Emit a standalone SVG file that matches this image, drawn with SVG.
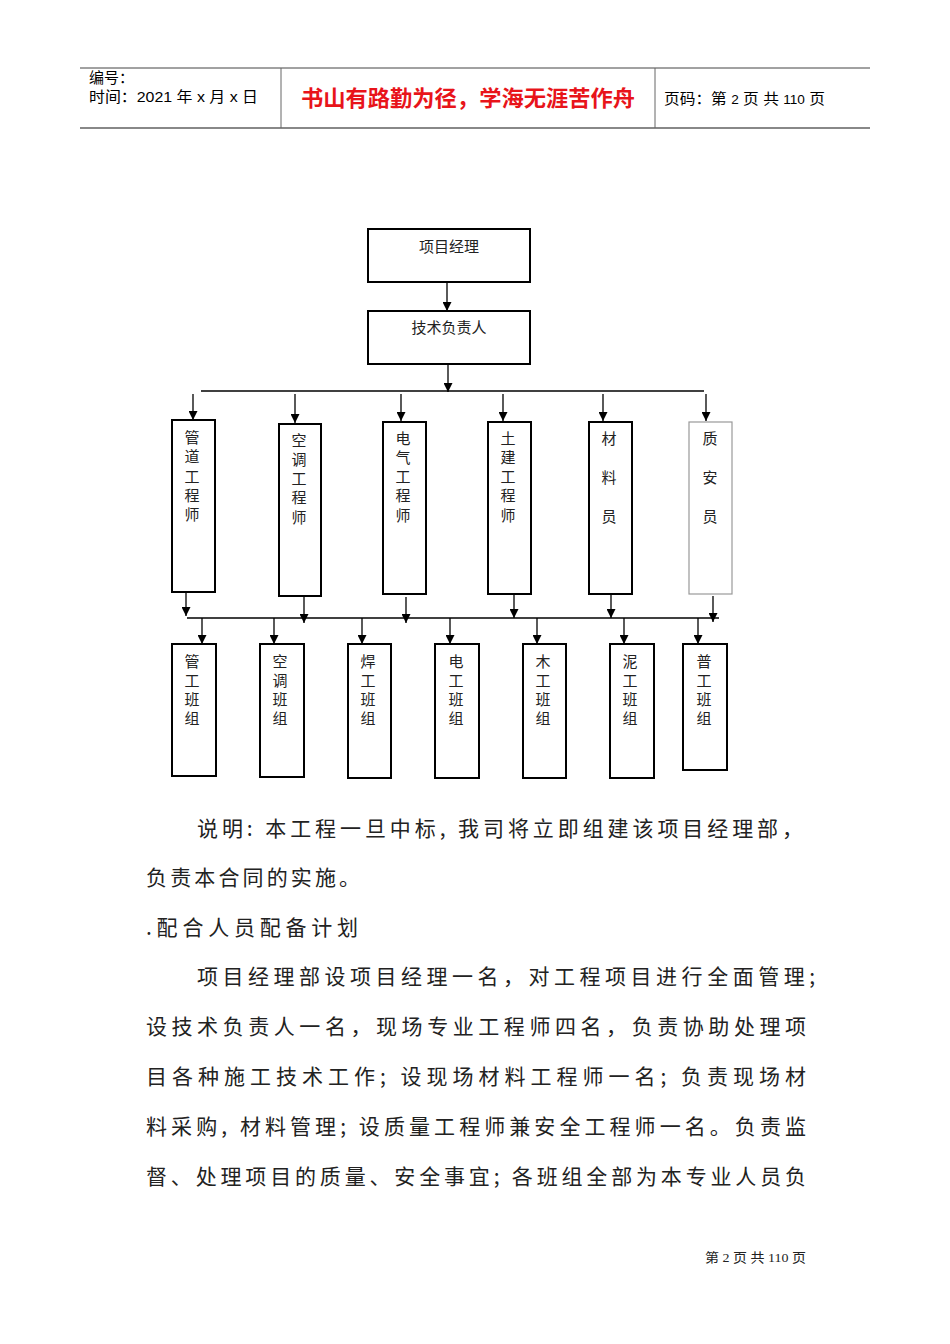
<svg xmlns="http://www.w3.org/2000/svg" width="950" height="1344" viewBox="0 0 950 1344">
<style>
.hdr{font-family:"Liberation Sans","Noto Sans CJK SC",sans-serif;font-size:15px;fill:#000}
.lbl{font-family:"Noto Sans CJK SC",sans-serif;font-size:15px;fill:#222;text-anchor:middle}
.box{fill:#fff;stroke:#000;stroke-width:2}
.boxg{fill:#fff;stroke:#999;stroke-width:1.2}
.con{stroke:#000;stroke-width:1.3;fill:none}
.par{font-family:"Noto Sans CJK SC",sans-serif;font-size:21px;fill:#222}
</style>
<defs>
<marker id="ah" viewBox="0 0 10 10" refX="10" refY="5" markerWidth="9" markerHeight="9" markerUnits="userSpaceOnUse" orient="auto">
<path d="M0,0 L10,5 L0,10 Z" fill="#000"/>
</marker>
</defs>
<rect width="950" height="1344" fill="#fff"/>

<g id="header">
<line x1="80" y1="68" x2="870" y2="68" stroke="#444" stroke-width="1"/>
<line x1="80" y1="128" x2="870" y2="128" stroke="#888" stroke-width="2"/>
<line x1="281" y1="68" x2="281" y2="128" stroke="#666" stroke-width="1"/>
<line x1="655" y1="68" x2="655" y2="128" stroke="#666" stroke-width="1"/>
<text class="hdr" x="89" y="83">编号：</text>
<text class="hdr" x="89" y="102" textLength="169" lengthAdjust="spacingAndGlyphs">时间：2021 年 x 月 x 日</text>
<text x="468" y="106" text-anchor="middle" font-family="Noto Sans CJK SC, sans-serif" font-size="22" font-weight="bold" fill="#e8141a" textLength="334" lengthAdjust="spacingAndGlyphs">书山有路勤为径，学海无涯苦作舟</text>
<text class="hdr" x="664" y="104" textLength="161" lengthAdjust="spacingAndGlyphs">页码：第 <tspan font-size="13">2</tspan> 页 共 <tspan font-size="13">110</tspan> 页</text>
</g>

<g id="connectors">
<path class="con" d="M447,282 V311" marker-end="url(#ah)"/>
<path class="con" d="M448,364 V392" marker-end="url(#ah)"/>
<path class="con" d="M201,391 H704"/>
<path class="con" d="M193,394 V420" marker-end="url(#ah)"/>
<path class="con" d="M295,394 V423" marker-end="url(#ah)"/>
<path class="con" d="M401,394 V421" marker-end="url(#ah)"/>
<path class="con" d="M503,394 V421" marker-end="url(#ah)"/>
<path class="con" d="M603,394 V421" marker-end="url(#ah)"/>
<path class="con" d="M706,394 V421" marker-end="url(#ah)"/>
<path class="con" d="M187,618 H719"/>
<path class="con" d="M186,592 V616" marker-end="url(#ah)"/>
<path class="con" d="M304,597 V623" marker-end="url(#ah)"/>
<path class="con" d="M406,597 V623" marker-end="url(#ah)"/>
<path class="con" d="M514,594 V618" marker-end="url(#ah)"/>
<path class="con" d="M611,594 V618" marker-end="url(#ah)"/>
<path class="con" d="M713,596 V622" marker-end="url(#ah)"/>
<path class="con" d="M202,618 V644" marker-end="url(#ah)"/>
<path class="con" d="M274,618 V644" marker-end="url(#ah)"/>
<path class="con" d="M362,618 V644" marker-end="url(#ah)"/>
<path class="con" d="M450,618 V644" marker-end="url(#ah)"/>
<path class="con" d="M537,618 V644" marker-end="url(#ah)"/>
<path class="con" d="M624,618 V644" marker-end="url(#ah)"/>
<path class="con" d="M698,618 V644" marker-end="url(#ah)"/>
</g>

<g id="pm">
<rect class="box" x="368" y="229" width="162" height="53"/>
<text class="lbl" x="449" y="252">项目经理</text>
</g>
<g id="tech">
<rect class="box" x="368" y="311" width="162" height="53"/>
<text class="lbl" x="449" y="333">技术负责人</text>
</g>

<g id="eng1">
<rect class="box" x="172" y="420" width="43" height="172"/>
<text class="lbl" x="192" y="443">管</text><text class="lbl" x="192" y="462">道</text><text class="lbl" x="192" y="482">工</text><text class="lbl" x="192" y="501">程</text><text class="lbl" x="192" y="520">师</text>
</g>
<g id="eng2">
<rect class="box" x="279" y="424" width="42" height="172"/>
<text class="lbl" x="299" y="446">空</text><text class="lbl" x="299" y="465">调</text><text class="lbl" x="299" y="484">工</text><text class="lbl" x="299" y="503">程</text><text class="lbl" x="299" y="523">师</text>
</g>
<g id="eng3">
<rect class="box" x="383" y="422" width="43" height="172"/>
<text class="lbl" x="403" y="444">电</text><text class="lbl" x="403" y="463">气</text><text class="lbl" x="403" y="482">工</text><text class="lbl" x="403" y="501">程</text><text class="lbl" x="403" y="521">师</text>
</g>
<g id="eng4">
<rect class="box" x="488" y="422" width="43" height="172"/>
<text class="lbl" x="508" y="444">土</text><text class="lbl" x="508" y="463">建</text><text class="lbl" x="508" y="482">工</text><text class="lbl" x="508" y="501">程</text><text class="lbl" x="508" y="521">师</text>
</g>
<g id="mat">
<rect class="box" x="589" y="422" width="43" height="172"/>
<text class="lbl" x="609" y="444">材</text><text class="lbl" x="609" y="483">料</text><text class="lbl" x="609" y="522">员</text>
</g>
<g id="qs">
<rect class="boxg" x="689" y="422" width="43" height="172"/>
<text class="lbl" x="710" y="444">质</text><text class="lbl" x="710" y="483">安</text><text class="lbl" x="710" y="522">员</text>
</g>

<g id="team1">
<rect class="box" x="172" y="644" width="44" height="132"/>
<text class="lbl" x="192" y="667">管</text><text class="lbl" x="192" y="686">工</text><text class="lbl" x="192" y="705">班</text><text class="lbl" x="192" y="724">组</text>
</g>
<g id="team2">
<rect class="box" x="260" y="644" width="44" height="133"/>
<text class="lbl" x="280" y="667">空</text><text class="lbl" x="280" y="686">调</text><text class="lbl" x="280" y="705">班</text><text class="lbl" x="280" y="724">组</text>
</g>
<g id="team3">
<rect class="box" x="348" y="644" width="43" height="134"/>
<text class="lbl" x="368" y="667">焊</text><text class="lbl" x="368" y="686">工</text><text class="lbl" x="368" y="705">班</text><text class="lbl" x="368" y="724">组</text>
</g>
<g id="team4">
<rect class="box" x="435" y="644" width="44" height="134"/>
<text class="lbl" x="456" y="667">电</text><text class="lbl" x="456" y="686">工</text><text class="lbl" x="456" y="705">班</text><text class="lbl" x="456" y="724">组</text>
</g>
<g id="team5">
<rect class="box" x="523" y="644" width="43" height="134"/>
<text class="lbl" x="543" y="667">木</text><text class="lbl" x="543" y="686">工</text><text class="lbl" x="543" y="705">班</text><text class="lbl" x="543" y="724">组</text>
</g>
<g id="team6">
<rect class="box" x="610" y="644" width="44" height="134"/>
<text class="lbl" x="630" y="667">泥</text><text class="lbl" x="630" y="686">工</text><text class="lbl" x="630" y="705">班</text><text class="lbl" x="630" y="724">组</text>
</g>
<g id="team7">
<rect class="box" x="683" y="644" width="44" height="126"/>
<text class="lbl" x="704" y="667">普</text><text class="lbl" x="704" y="686">工</text><text class="lbl" x="704" y="705">班</text><text class="lbl" x="704" y="724">组</text>
</g>

<g id="body">
<text class="par" x="197" y="836" textLength="606" lengthAdjust="spacing">说明: 本工程一旦中标, 我司将立即组建该项目经理部，</text>
<text class="par" x="146" y="885" textLength="214" lengthAdjust="spacing">负责本合同的实施。</text>
<text class="par" x="146" y="935" textLength="212" lengthAdjust="spacing">.配合人员配备计划</text>
<text class="par" x="197" y="984" textLength="618" lengthAdjust="spacing">项目经理部设项目经理一名，对工程项目进行全面管理;</text>
<text class="par" x="146" y="1034" textLength="660" lengthAdjust="spacing">设技术负责人一名，现场专业工程师四名，负责协助处理项</text>
<text class="par" x="146" y="1084" textLength="660" lengthAdjust="spacing">目各种施工技术工作; 设现场材料工程师一名; 负责现场材</text>
<text class="par" x="146" y="1134" textLength="660" lengthAdjust="spacing">料采购, 材料管理; 设质量工程师兼安全工程师一名。负责监</text>
<text class="par" x="146" y="1184" textLength="660" lengthAdjust="spacing">督、处理项目的质量、安全事宜; 各班组全部为本专业人员负</text>
</g>

<g id="footer">
<text x="705" y="1262" font-family="Liberation Serif, Noto Sans CJK SC, serif" font-size="13" fill="#222" textLength="101" lengthAdjust="spacingAndGlyphs">第 2 页 共 110 页</text>
</g>
</svg>
